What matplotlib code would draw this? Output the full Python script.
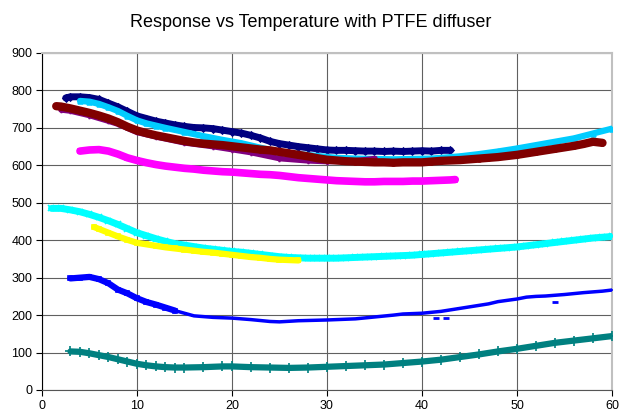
import matplotlib
matplotlib.use("Agg")
import matplotlib.pyplot as plt

plt.rcParams['font.family'] = ['Liberation Sans', 'DejaVu Sans']

# readings (temperature, response)
navy_x = [2.5, 3, 4, 5, 6, 7, 8, 9, 10, 11, 12, 13, 14, 15, 16, 17, 18, 19, 20, 21, 22, 23, 24, 25,
          26, 27, 28, 29, 30, 31, 32, 33, 34, 35, 36, 37, 38, 39, 40, 41, 42, 43]
navy_y = [780, 783, 783, 781, 776, 766, 756, 744, 732, 725, 718, 713, 708, 704, 701, 700, 698, 694, 690, 686,
          680, 673, 664, 658, 654, 650, 647, 644, 641, 640, 640, 639, 638, 638, 637, 638, 637, 638, 639, 638, 640, 640]

sky_x = [4, 5, 6, 7, 8, 9, 10, 11, 12, 13, 15, 17, 19, 21, 23, 25, 27, 29, 31, 33, 35, 37, 39, 41, 42,
         44, 46, 48, 50, 52, 54, 56, 58, 60]
sky_y = [772, 770, 764, 755, 745, 732, 720, 712, 706, 700, 689, 678, 668, 659, 647, 636, 630, 625, 620, 618,
         617, 616, 617, 618, 620, 624, 630, 637, 645, 654, 663, 672, 685, 698]

purple_x = [2, 3, 5, 7, 8, 10, 12, 15, 18, 20, 22, 25, 28, 30, 33, 35]
purple_y = [748, 745, 733, 718, 710, 688, 676, 660, 650, 642, 634, 618, 612, 610, 612, 618]

maroon_x = [1.5, 2, 3, 4, 5, 6, 7, 8, 9, 10, 11, 12, 13, 14, 15, 16, 17, 18, 19, 20, 21, 22, 23, 24, 25,
            26, 27, 28, 29, 30, 31, 32, 33, 34, 35, 36, 37, 38, 39, 40, 41, 42, 43, 44, 45, 46, 47, 48,
            49, 50, 51, 52, 53, 54, 55, 56, 57, 58, 59]
maroon_y = [758, 757, 752, 746, 740, 733, 725, 715, 703, 693, 686, 680, 675, 670, 665, 661, 658, 656, 654, 651,
            648, 645, 642, 640, 636, 632, 628, 624, 619, 615, 613, 611, 610, 609, 608, 608, 607, 608, 608, 608,
            610, 612, 613, 614, 616, 618, 620, 622, 625, 628, 632, 636, 640, 644, 648, 652, 657, 663, 660]

magenta_x = [4, 5, 6, 7, 8, 9, 10, 11, 12, 13, 14, 15, 16, 17, 18, 19, 20, 21, 22, 23, 24, 25, 26, 27,
             28, 29, 30, 31, 32, 33, 34, 35, 36, 37, 38, 39, 40, 41, 42, 43, 43.5]
magenta_y = [638, 641, 642, 638, 630, 620, 613, 607, 602, 598, 595, 592, 590, 587, 585, 583, 582, 580, 578, 576,
             575, 573, 570, 567, 565, 563, 561, 559, 558, 557, 556, 556, 557, 557, 557, 558, 558, 559, 560, 561, 562]

aqua_x = [1, 2, 3, 4, 5, 6, 7, 8, 9, 10, 11, 12, 13, 14, 15, 16, 17, 18, 19, 20, 21, 22, 23, 24, 25, 26,
          27, 28, 29, 30, 31, 32, 33, 34, 35, 36, 37, 38, 39, 40, 41, 42, 43, 44, 45, 46, 47, 48, 49, 50,
          51, 52, 53, 54, 55, 56, 57, 58, 59, 60]
aqua_y = [485, 485, 481, 476, 469, 461, 452, 442, 431, 420, 412, 404, 397, 391, 387, 383, 379, 376, 373, 370,
          368, 365, 362, 359, 356, 354, 353, 352, 352, 352, 352, 353, 354, 355, 356, 357, 358, 359, 360, 362,
          364, 366, 368, 370, 372, 374, 376, 378, 380, 382, 385, 388, 391, 394, 397, 400, 403, 406, 408, 410]

yellow_x = [5.5, 6, 7, 8, 9, 10, 11, 12, 13, 14, 15, 16, 17, 18, 19, 20, 21, 22, 23, 24, 25, 26, 27]
yellow_y = [435, 430, 420, 410, 401, 393, 389, 385, 381, 378, 375, 372, 369, 367, 364, 361, 358, 355, 353, 350,
            348, 347, 346]

blue_x = [3, 4, 5, 6, 7, 8, 9, 10, 11, 12, 13, 14, 15, 16, 17, 18, 20, 22, 24, 25, 27, 30, 33, 35, 37,
          38, 40, 42, 44, 45, 47, 48, 50, 51, 52, 53, 55, 57, 59, 60]
blue_y = [298, 300, 302, 296, 285, 268, 258, 245, 235, 228, 220, 212, 205, 198, 196, 194, 192, 188, 183, 182,
          185, 187, 190, 195, 200, 203, 205, 210, 218, 222, 230, 236, 243, 248, 250, 251, 255, 260, 264, 267]
blue_out_x = [41.5, 42.5, 54]
blue_out_y = [193, 192, 236]

teal_x = [3, 4, 5, 6, 7, 8, 9, 10, 11, 12, 13, 14, 15, 17, 19, 20, 22, 24, 26, 28, 30, 32, 34, 36, 38,
          40, 42, 44, 46, 48, 50, 52, 54, 56, 58, 60]
teal_y = [103, 102, 98, 93, 88, 82, 76, 70, 66, 63, 61, 60, 60, 61, 63, 63, 61, 60, 59, 60, 62, 64, 66, 68, 72,
          76, 81, 88, 95, 103, 110, 118, 126, 132, 138, 144]

xticks = [0, 10, 20, 30, 40, 50, 60]
yticks = [0, 100, 200, 300, 400, 500, 600, 700, 800, 900]

fig = plt.figure(figsize=(6.21, 4.16), dpi=100)
ax = fig.add_axes([0.0676, 0.0625, 0.9179, 0.8101])

def band(x, y, color, marker, lw=4.5, ms=3.5):
    ax.plot(x, y, color=color, lw=lw, marker=marker, ms=ms, mew=1.2,
            solid_capstyle='round', solid_joinstyle='round', zorder=3)

band(navy_x, navy_y, '#000080', 'D', lw=5)
band(sky_x, sky_y, '#00CCFF', '^', lw=4.5)
band(purple_x, purple_y, '#800080', 'v', lw=4)
band(maroon_x, maroon_y, '#800000', 'o', lw=6)
band(magenta_x, magenta_y, '#FF00FF', 's', lw=5.5)
band(aqua_x, aqua_y, '#00FFFF', 'x', lw=5, ms=4.5)
band(yellow_x, yellow_y, '#FFFF00', 's', lw=4.5)
band(blue_x[:12], blue_y[:12], '#0000FF', 's', lw=4.5, ms=3)
band(blue_x[11:], blue_y[11:], '#0000FF', '_', lw=2.5, ms=4)
ax.plot(blue_out_x, blue_out_y, ls='none', marker='_', ms=4, mew=2, color='#0000FF', zorder=3)
band(teal_x, teal_y, '#008080', '+', lw=4.5, ms=7)

ax.set_xlim(0, 60)
ax.set_ylim(0, 900)
ax.set_xticks(xticks)
ax.set_yticks(yticks)
ax.grid(True, color='#606060', lw=0.8)
ax.set_axisbelow(True)
for s in ['top', 'right']:
    ax.spines[s].set_color('#c0c0c0')
    ax.spines[s].set_linewidth(1.5)
ax.spines['left'].set_color('black')
ax.spines['bottom'].set_color('#555555')
ax.tick_params(direction='out', length=4, width=0.8, labelsize=9, pad=3)

fig.text(0.5, 0.947, 'Response vs Temperature with PTFE diffuser', ha='center', va='center', fontsize=13)

fig.savefig('out.png', dpi=100)
